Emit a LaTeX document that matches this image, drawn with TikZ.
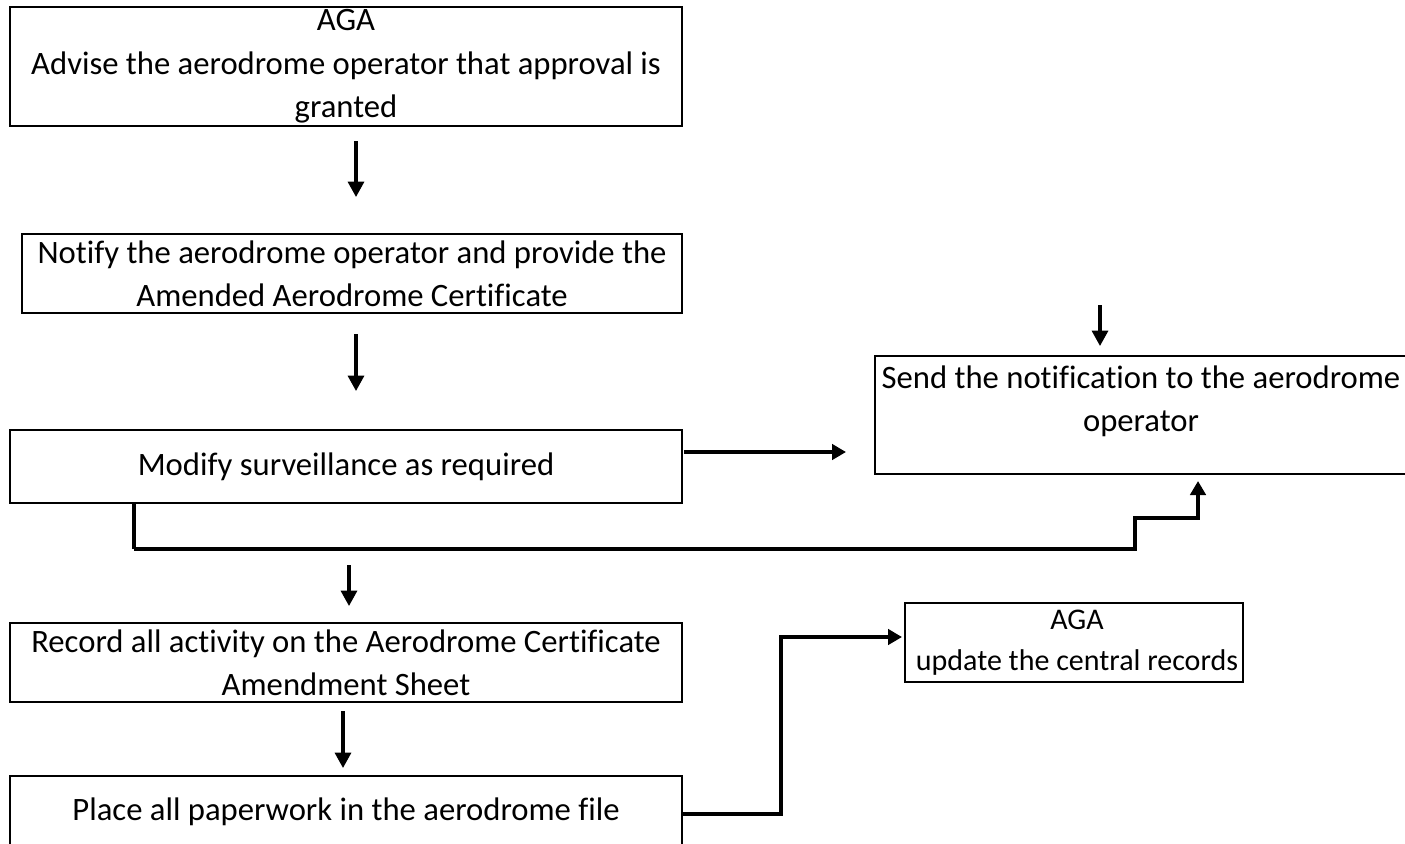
\documentclass[tikz,border=0pt]{standalone}
\usepackage{fontspec}
\setmainfont{Carlito}[Ligatures=CommonOff]
\usetikzlibrary{arrows.meta}
\begin{document}
\begin{tikzpicture}[x=0.75pt,y=-0.75pt,
  box/.style={draw, line width=1.6pt, inner sep=0pt, align=center,
    font=\fontsize{24.5}{32.5}\selectfont},
  plain/.style={inner sep=0pt, align=center, font=\fontsize{24.5}{32.5}\selectfont},
  arr/.style={line width=2.3pt, -{Triangle[length=11.5pt,width=12pt]}},
  elbow/.style={line width=2.9pt},
  elbowarr/.style={line width=2.9pt, -{Triangle[length=10.5pt,width=11.5pt]}}
]
\clip (0,0) rectangle (1405,843);
\fill[white] (0,0) rectangle (1405,843);

% boxes
\node[box, minimum width=504pt, minimum height=89.25pt] (b1) at (346,66.5)
  {AGA\\Advise the aerodrome operator that approval is\\granted};
\node[box, minimum width=495pt, minimum height=59.25pt] (b2) at (352,273.5)
  {Notify the aerodrome operator and provide the\\Amended Aerodrome Certificate};
\node[box, minimum width=504pt, minimum height=54.75pt] (b3) at (346,466.5)
  {Modify surveillance as required};
\node[box, minimum width=408.75pt, minimum height=88.5pt] (b4) at (1147.5,415) {};
\node[plain] (t4) at (1141,401) {Send the notification to the aerodrome\\operator};
\node[box, minimum width=504pt, minimum height=59.25pt] (b5) at (346,662.5)
  {Record all activity on the Aerodrome Certificate\\Amendment Sheet};
\node[box, minimum width=504pt, minimum height=75pt, anchor=north] (b6) at (346,775) {};
\node[plain] (t6) at (346,812) {Place all paperwork in the aerodrome file};
\node[box, minimum width=253.5pt, minimum height=59.25pt] (b7) at (1074,642.5) {};
\node[plain, font=\fontsize{22.5}{31}\selectfont] (t7) at (1077,643)
  {AGA\\update the central records};

% free-standing arrow ends
\coordinate (a1s) at (356,141); \coordinate (a1e) at (356,197);
\coordinate (a2s) at (356,334); \coordinate (a2e) at (356,391);
\coordinate (a3s) at (1100,305); \coordinate (a3e) at (1100,346);
\coordinate (a4s) at (349,565); \coordinate (a4e) at (349,606);
\coordinate (a5s) at (343,711); \coordinate (a5e) at (343,768);
\coordinate (h1s) at (684,452); \coordinate (h1e) at (846,452);

\draw[arr] (a1s) -- (a1e);
\draw[arr] (a2s) -- (a2e);
\draw[arr] (a3s) -- (a3e);
\draw[arr] (a4s) -- (a4e);
\draw[arr] (a5s) -- (a5e);
\draw[elbowarr] (h1s) -- (h1e);

% elbow from Modify box to Send box
\coordinate (e1) at (134,503);
\coordinate (e1end) at (1198,481);
\draw[elbow] (e1) -- (134,549);
\draw[elbowarr] (134,549) -- (1135,549) -- (1135,518) -- (1198,518) -- (e1end);

% elbow from Place box to AGA update box
\coordinate (e2) at (683,814);
\coordinate (e2end) at (902,637);
\draw[elbowarr] (e2) -- (781,814) -- (781,637) -- (e2end);
\end{tikzpicture}
\end{document}
